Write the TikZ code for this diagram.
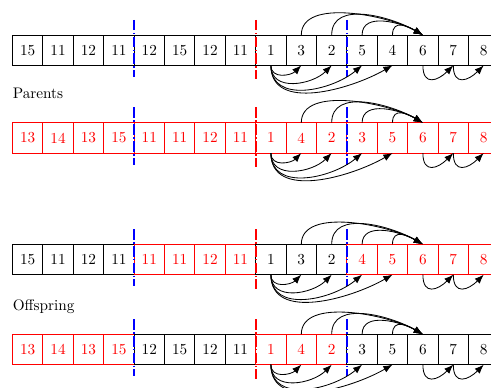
\documentclass[tikz,border=0pt]{standalone}
\usetikzlibrary{arrows.meta}
\begin{document}
\begin{tikzpicture}[x=0.7cm,y=0.7cm,
  cell/.style={draw, minimum width=0.7cm, minimum height=0.7cm, inner sep=0pt, outer sep=0pt, line width=0.6pt},
  arr/.style={-{Latex[length=6pt,width=4.6pt]}, line width=0.55pt, black},
  cutb/.style={blue, line width=1.1pt, dash pattern=on 7pt off 1.5pt on 1pt off 1.5pt},
  cutr/.style={red, line width=1.1pt, dash pattern=on 7pt off 1.5pt on 1pt off 1.5pt},
  lbl/.style={anchor=base west, inner sep=0pt}]
\useasboundingbox (-0.411,1.151) rectangle (15.74,-11.58);

% row 1 (parent 1)
\foreach \v/\c [count=\i from 0] in {15/black,11/black,12/black,11/black,12/black,15/black,12/black,11/black,1/black,3/black,2/black,5/black,4/black,6/black,7/black,8/black}
  \node[cell, draw=\c, text=\c] (c1-\i) at (\i+0.5,-0.5) {\v};
% row 2 (parent 2)
\foreach \v/\c [count=\i from 0] in {13/red,14/red,13/red,15/red,11/red,11/red,12/red,11/red,1/red,4/red,2/red,3/red,5/red,6/red,7/red,8/red}
  \node[cell, draw=\c, text=\c] (c2-\i) at (\i+0.5,-3.385) {\v};
% row 3 (offspring 1)
\foreach \v/\c [count=\i from 0] in {15/black,11/black,12/black,11/black,11/red,11/red,12/red,11/red,1/black,3/black,2/black,4/red,5/red,6/red,7/red,8/red}
  \node[cell, draw=\c, text=\c] (c3-\i) at (\i+0.5,-7.385) {\v};
% row 4 (offspring 2)
\foreach \v/\c [count=\i from 0] in {13/red,14/red,13/red,15/red,12/black,15/black,12/black,11/black,1/red,4/red,2/red,3/black,5/black,6/black,7/black,8/black}
  \node[cell, draw=\c, text=\c] (c4-\i) at (\i+0.5,-10.345) {\v};

\node[lbl] (parents) at (0,-2.105) {Parents};
\node[lbl] (offspring) at (0,-9.05) {Offspring};

\foreach \r in {1,2,3,4} {
  % cut lines
  \draw[cutb] ([yshift=0.35cm]c\r-4.north west) -- ([yshift=-0.27cm]c\r-4.south west);
  \draw[cutr] ([yshift=0.35cm]c\r-8.north west) -- ([yshift=-0.32cm]c\r-8.south west);
  \draw[cutb] ([yshift=0.35cm]c\r-11.north west) -- ([yshift=-0.27cm]c\r-11.south west);
  % arcs over the top
  \draw[arr] (c\r-9.north)  to[out=90,in=150,looseness=0.8] (c\r-13.north);
  \draw[arr] (c\r-10.north) to[out=90,in=150,looseness=1.0] (c\r-13.north);
  \draw[arr] (c\r-11.north) to[out=90,in=150,looseness=1.0] (c\r-13.north);
  \draw[arr] (c\r-12.north) to[out=90,in=150,looseness=1.4] (c\r-13.north);
  % arcs underneath
  \draw[arr] (c\r-8.south) to[out=-90,in=-135,looseness=1.2] (c\r-9.south);
  \draw[arr] (c\r-8.south) to[out=-90,in=-135,looseness=1.15] (c\r-10.south);
  \draw[arr] (c\r-8.south) to[out=-90,in=-140,looseness=1.1] (c\r-11.south);
  \draw[arr] (c\r-8.south) to[out=-90,in=-150,looseness=1.0] (c\r-12.south);
  \draw[arr] (c\r-13.south) to[out=-90,in=-135,looseness=1.8] (c\r-14.south);
  \draw[arr] (c\r-14.south) to[out=-90,in=-135,looseness=1.8] (c\r-15.south);
}
\end{tikzpicture}
\end{document}
